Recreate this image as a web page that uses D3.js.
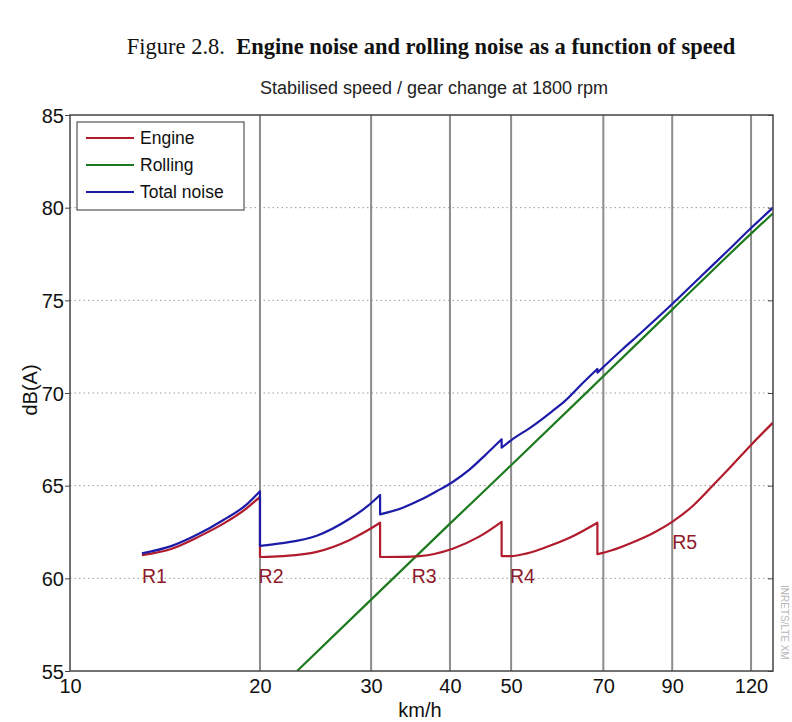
<!DOCTYPE html>
<html>
<head>
<meta charset="utf-8">
<script src="https://cdn.jsdelivr.net/npm/d3@7"></script>
<style>
  html, body { margin: 0; padding: 0; background: #fff; }
  svg { display: block; }
</style>
</head>
<body>
<svg id="chart" width="792" height="722"></svg>
<script>
// ---- Data ----
const xTicks = [10, 20, 30, 40, 50, 70, 90, 120];
const yTicks = [55, 60, 65, 70, 75, 80, 85];

const engineSpeed = [13, 14.5, 16, 17.5, 19, 20,
                     20, 21.7, 24.6, 27.7, 29.5, 31,
                     31, 33.6, 35.8, 40.4, 44.5, 48.3,
                     48.3, 50, 53, 57, 62, 68.5,
                     68.5, 72, 78, 84, 90, 97, 105, 112, 120, 130];
const engineDb = [61.25, 61.6, 62.25, 62.95, 63.75, 64.4,
                  61.15, 61.2, 61.43, 62.06, 62.55, 63.0,
                  61.15, 61.16, 61.2, 61.6, 62.25, 63.05,
                  61.2, 61.2, 61.35, 61.7, 62.2, 63.0,
                  61.3, 61.5, 61.95, 62.45, 63.05, 63.9, 65.1, 66.1, 67.2, 68.4];

const rollingSpeed = [22.9, 30, 40, 50, 70, 90, 120, 130];
const rollingDb = [55, 58.85, 62.95, 66.1, 70.9, 74.5, 78.6, 79.7];

const totalSpeed = [13, 14.5, 16, 17.5, 19, 20,
                    20, 21.7, 24.6, 27.7, 29.5, 31,
                    31, 33.6, 36, 38.1, 40.4, 42.9, 45.5, 48.3,
                    48.3, 50, 54, 58, 61, 65, 68.5,
                    68.5, 75, 80, 90, 100, 110, 120, 130];
const totalDb = [61.35, 61.75, 62.4, 63.15, 63.95, 64.7,
                 61.75, 61.9, 62.3, 63.2, 63.85, 64.5,
                 63.45, 63.8, 64.25, 64.7, 65.2, 65.85, 66.65, 67.5,
                 67.05, 67.45, 68.2, 69.0, 69.6, 70.55, 71.3,
                 71.1, 72.35, 73.2, 74.8, 76.3, 77.65, 78.9, 80.0];

const seriesNames = ["Engine", "Rolling", "Total noise"];
const seriesColors = ["#b01c2c", "#1e7a1e", "#1c1ca8"];

const gearLabels = ["R1", "R2", "R3", "R4", "R5"];
const gearLabelSpeed = [13.0, 19.9, 34.8, 49.8, 90];
const gearLabelDb = [59.75, 59.75, 59.75, 59.75, 61.6];

// ---- Layout ----
const svg = d3.select("#chart");
const L = 70, R = 773, T = 115, B = 671;

const x = d3.scaleLog().domain([10, 130]).range([L, R]);
const y = d3.scaleLinear().domain([55, 85]).range([B, T]);

const axisFont = "'Liberation Sans', Arial, sans-serif";

// Title
const title = svg.append("text")
  .attr("x", 431).attr("y", 54)
  .attr("text-anchor", "middle")
  .style("font-family", "'Liberation Serif', 'Times New Roman', serif")
  .style("font-size", "22.5px")
  .style("fill", "#111");
title.append("tspan").style("font-weight", "normal").text("Figure 2.8.\u00a0 ");
title.append("tspan").style("font-weight", "bold").text("Engine noise and rolling noise as a function of speed");

// Subtitle
svg.append("text")
  .attr("x", 434).attr("y", 94)
  .attr("text-anchor", "middle")
  .style("font-family", axisFont)
  .style("font-size", "18px")
  .style("fill", "#222")
  .text("Stabilised speed / gear change at 1800 rpm");

// Horizontal dotted gridlines
svg.append("g").selectAll("line")
  .data(yTicks.filter(v => v > 55 && v < 85))
  .join("line")
  .attr("x1", L).attr("x2", R)
  .attr("y1", d => y(d)).attr("y2", d => y(d))
  .attr("stroke", "#9a9a9a")
  .attr("stroke-width", 1)
  .attr("stroke-dasharray", "1.5,3");

// Vertical solid gridlines
svg.append("g").selectAll("line")
  .data(xTicks.filter(v => v > 10))
  .join("line")
  .attr("x1", d => x(d)).attr("x2", d => x(d))
  .attr("y1", T).attr("y2", B)
  .attr("stroke", "#8c8c8c")
  .attr("stroke-width", 2);

// Axes
const yAxisL = d3.axisLeft(y).tickValues(yTicks).tickSize(5).tickFormat(d3.format("d"));
const yAxisR = d3.axisRight(y).tickValues(yTicks).tickSize(-5).tickFormat("");
const xAxis = d3.axisBottom(x).tickValues(xTicks).tickSize(0).tickFormat(d3.format("d"));

const gyl = svg.append("g").attr("transform", `translate(${L},0)`).call(yAxisL);
gyl.select(".domain").remove();
gyl.selectAll("line").attr("stroke", "#444");
gyl.selectAll("text").style("font-family", axisFont).style("font-size", "20px")
  .attr("fill", "#111").attr("x", -6).attr("dy", "0.35em");

const gyr = svg.append("g").attr("transform", `translate(${R},0)`).call(yAxisR);
gyr.select(".domain").remove();
gyr.selectAll("line").attr("stroke", "#444");

const gx = svg.append("g").attr("transform", `translate(0,${B})`).call(xAxis);
gx.select(".domain").remove();
gx.selectAll("text").style("font-family", axisFont).style("font-size", "20px")
  .attr("fill", "#111").attr("y", 8).attr("dy", "0.71em");

// Axis titles
svg.append("text")
  .attr("x", 420).attr("y", 717)
  .attr("text-anchor", "middle")
  .style("font-family", axisFont).style("font-size", "20px").style("fill", "#111")
  .text("km/h");
svg.append("text")
  .attr("transform", "translate(37,390) rotate(-90)")
  .attr("text-anchor", "middle")
  .style("font-family", axisFont).style("font-size", "20px").style("fill", "#111")
  .text("dB(A)");

// Clip
svg.append("defs").append("clipPath").attr("id", "plotclip")
  .append("rect").attr("x", L).attr("y", T).attr("width", R - L).attr("height", B - T);

// Smooth each gear segment, join segments with vertical drops
const segLine = d3.line().x(d => x(d[0])).y(d => y(d[1])).curve(d3.curveMonotoneX);
function segmentedPath(pts) {
  const segs = [];
  let cur = [pts[0]];
  for (let i = 1; i < pts.length; i++) {
    if (pts[i][0] === pts[i - 1][0]) { segs.push(cur); cur = [pts[i]]; }
    else cur.push(pts[i]);
  }
  segs.push(cur);
  return segs.map((s, k) => {
    const p = segLine(s);
    return k === 0 ? p : "L" + p.slice(1);
  }).join("");
}

const seriesData = [
  d3.zip(engineSpeed, engineDb),
  d3.zip(rollingSpeed, rollingDb),
  d3.zip(totalSpeed, totalDb)
];

const gLines = svg.append("g").attr("clip-path", "url(#plotclip)");
[1, 0, 2].forEach(i => {
  gLines.append("path")
    .attr("d", segmentedPath(seriesData[i]))
    .attr("fill", "none")
    .attr("stroke", seriesColors[i])
    .attr("stroke-width", 2.2)
    .attr("stroke-linejoin", "round");
});

// Gear labels
svg.append("g").selectAll("text")
  .data(d3.range(gearLabels.length))
  .join("text")
  .attr("x", i => x(gearLabelSpeed[i]))
  .attr("y", i => y(gearLabelDb[i]))
  .style("font-family", axisFont).style("font-size", "19.5px")
  .style("fill", "#8e1a2a")
  .text(i => gearLabels[i]);

// Plot frame
svg.append("rect")
  .attr("x", L).attr("y", T).attr("width", R - L).attr("height", B - T)
  .attr("fill", "none").attr("stroke", "#444").attr("stroke-width", 1.5);

// Legend
const lg = svg.append("g");
lg.append("rect").attr("x", 77).attr("y", 122).attr("width", 167).attr("height", 88)
  .attr("fill", "#fff").attr("stroke", "#555").attr("stroke-width", 1.2);
seriesNames.forEach((name, i) => {
  const yy = 138 + i * 27;
  lg.append("line").attr("x1", 86).attr("x2", 134).attr("y1", yy).attr("y2", yy)
    .attr("stroke", seriesColors[i]).attr("stroke-width", 2.2);
  lg.append("text").attr("x", 140).attr("y", yy + 6)
    .style("font-family", axisFont).style("font-size", "17.5px").style("fill", "#111")
    .text(name);
});

// Watermark
svg.append("text")
  .attr("transform", "translate(781,585) rotate(90)")
  .style("font-family", axisFont).style("font-size", "10px").style("fill", "#b8b8b8")
  .text("INRETS/LTE XM");
</script>
</body>
</html>
